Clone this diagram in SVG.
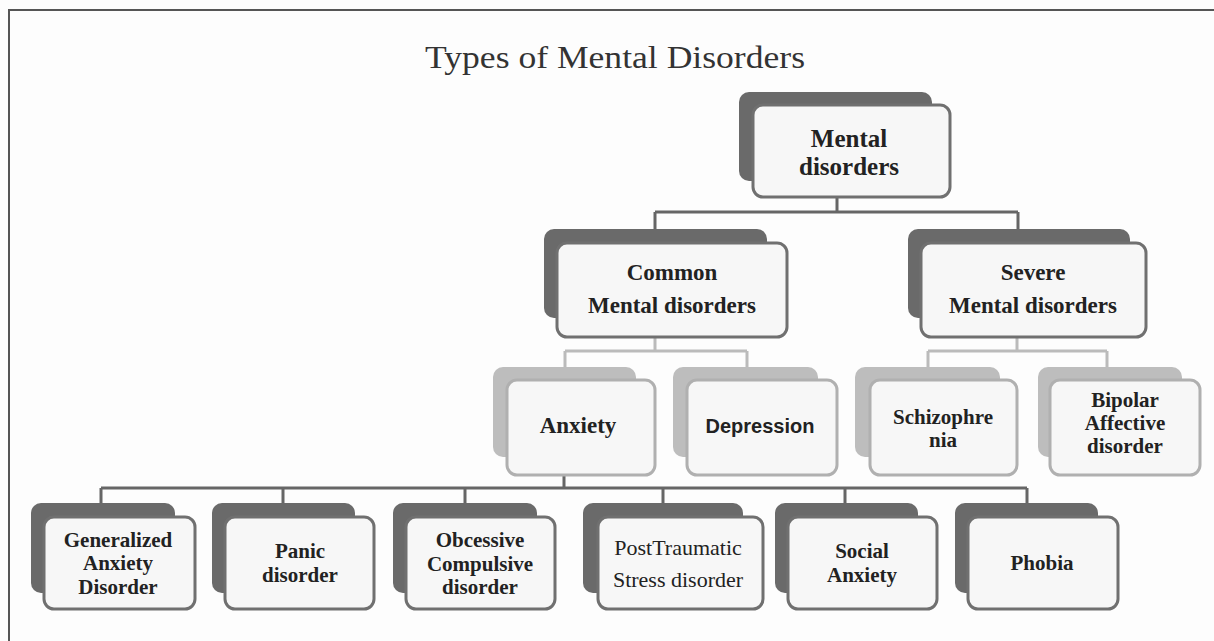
<svg xmlns="http://www.w3.org/2000/svg" width="1214" height="641" viewBox="0 0 1214 641">
<style>
.bd{fill:#6a6a6a}
.bl{fill:#bdbdbd}
.fd{fill:#f7f7f7;stroke:#707070;stroke-width:3}
.fl{fill:#f7f7f7;stroke:#b0b0b0;stroke-width:3}
.t{font-family:"Liberation Serif",serif;font-weight:bold;fill:#222;text-anchor:middle}
.ts{font-family:"Liberation Sans",sans-serif;font-weight:bold;fill:#222;text-anchor:middle}
.tr{font-family:"Liberation Serif",serif;fill:#222;text-anchor:middle}
.cd{fill:none;stroke:#666;stroke-width:3}
.cl{fill:none;stroke:#bbb;stroke-width:3}
</style>
<rect x="0" y="0" width="1214" height="641" fill="#fdfdfd"/>
<path d="M9 641 V10 H1214" fill="none" stroke="#555" stroke-width="2"/>
<text x="615" y="68" font-family="'Liberation Serif',serif" font-size="32" fill="#333" text-anchor="middle" textLength="380" lengthAdjust="spacingAndGlyphs">Types of Mental Disorders</text>
<g id="connectors">
<path class="cd" d="M837 198 V212 M655 212 H1018 M655 212 V229 M1018 212 V229"/>
<path class="cl" d="M655 337 V351 M565 351 H747 M565 351 V367 M747 351 V367"/>
<path class="cl" d="M1017 337 V351 M928 351 H1107 M928 351 V367 M1107 351 V367"/>
<path class="cd" d="M564 475 V488 M101 488 H1027 M101 488 V503 M283 488 V503 M465 488 V503 M663 488 V503 M845 488 V503 M1027 488 V503"/>
</g>
<g id="root">
<rect class="bd" x="739" y="92" width="193" height="89" rx="10"/>
<rect class="fd" x="753" y="105" width="197" height="92" rx="10"/>
<text class="t" x="849" y="147" font-size="25">Mental</text>
<text class="t" x="849" y="175" font-size="25">disorders</text>
</g>
<g id="common">
<rect class="bd" x="544" y="229" width="223" height="89" rx="10"/>
<rect class="fd" x="557" y="243" width="230" height="94" rx="10"/>
<text class="t" x="672" y="280" font-size="23">Common</text>
<text class="t" x="672" y="313" font-size="23">Mental disorders</text>
</g>
<g id="severe">
<rect class="bd" x="908" y="229" width="222" height="89" rx="10"/>
<rect class="fd" x="921" y="243" width="225" height="94" rx="10"/>
<text class="t" x="1033" y="280" font-size="23">Severe</text>
<text class="t" x="1033" y="313" font-size="23">Mental disorders</text>
</g>
<g id="anxiety">
<rect class="bl" x="493" y="367" width="143" height="90" rx="10"/>
<rect class="fl" x="507" y="380" width="148" height="95" rx="10"/>
<text class="t" x="578" y="433" font-size="23">Anxiety</text>
</g>
<g id="depression">
<rect class="bl" x="673" y="367" width="145" height="90" rx="10"/>
<rect class="fl" x="687" y="380" width="150" height="95" rx="10"/>
<text class="ts" x="760" y="433" font-size="20">Depression</text>
</g>
<g id="schizophrenia">
<rect class="bl" x="855" y="367" width="145" height="90" rx="10"/>
<rect class="fl" x="870" y="380" width="147" height="95" rx="10"/>
<text class="t" x="943" y="424" font-size="21">Schizophre</text>
<text class="t" x="943" y="447" font-size="21">nia</text>
</g>
<g id="bipolar">
<rect class="bl" x="1038" y="367" width="144" height="90" rx="10"/>
<rect class="fl" x="1050" y="380" width="150" height="95" rx="10"/>
<text class="t" x="1125" y="407" font-size="21">Bipolar</text>
<text class="t" x="1125" y="430" font-size="21">Affective</text>
<text class="t" x="1125" y="453" font-size="21">disorder</text>
</g>
<g id="gad">
<rect class="bd" x="31" y="503" width="144" height="90" rx="10"/>
<rect class="fd" x="44" y="517" width="151" height="92" rx="10"/>
<text class="t" x="118" y="547" font-size="21">Generalized</text>
<text class="t" x="118" y="570" font-size="21">Anxiety</text>
<text class="t" x="118" y="594" font-size="21">Disorder</text>
</g>
<g id="panic">
<rect class="bd" x="212" y="503" width="143" height="90" rx="10"/>
<rect class="fd" x="225" y="517" width="149" height="92" rx="10"/>
<text class="t" x="300" y="558" font-size="21">Panic</text>
<text class="t" x="300" y="582" font-size="21">disorder</text>
</g>
<g id="ocd">
<rect class="bd" x="393" y="503" width="144" height="90" rx="10"/>
<rect class="fd" x="406" y="517" width="149" height="92" rx="10"/>
<text class="t" x="480" y="547" font-size="21">Obcessive</text>
<text class="t" x="480" y="571" font-size="21">Compulsive</text>
<text class="t" x="480" y="594" font-size="21">disorder</text>
</g>
<g id="ptsd">
<rect class="bd" x="583" y="503" width="160" height="90" rx="10"/>
<rect class="fd" x="598" y="517" width="165" height="92" rx="10"/>
<text class="tr" x="678" y="555" font-size="22">PostTraumatic</text>
<text class="tr" x="678" y="587" font-size="22">Stress disorder</text>
</g>
<g id="social">
<rect class="bd" x="775" y="503" width="143" height="90" rx="10"/>
<rect class="fd" x="788" y="517" width="149" height="92" rx="10"/>
<text class="t" x="862" y="558" font-size="21">Social</text>
<text class="t" x="862" y="582" font-size="21">Anxiety</text>
</g>
<g id="phobia">
<rect class="bd" x="955" y="503" width="143" height="90" rx="10"/>
<rect class="fd" x="968" y="517" width="150" height="92" rx="10"/>
<text class="t" x="1042" y="570" font-size="21">Phobia</text>
</g>
</svg>
